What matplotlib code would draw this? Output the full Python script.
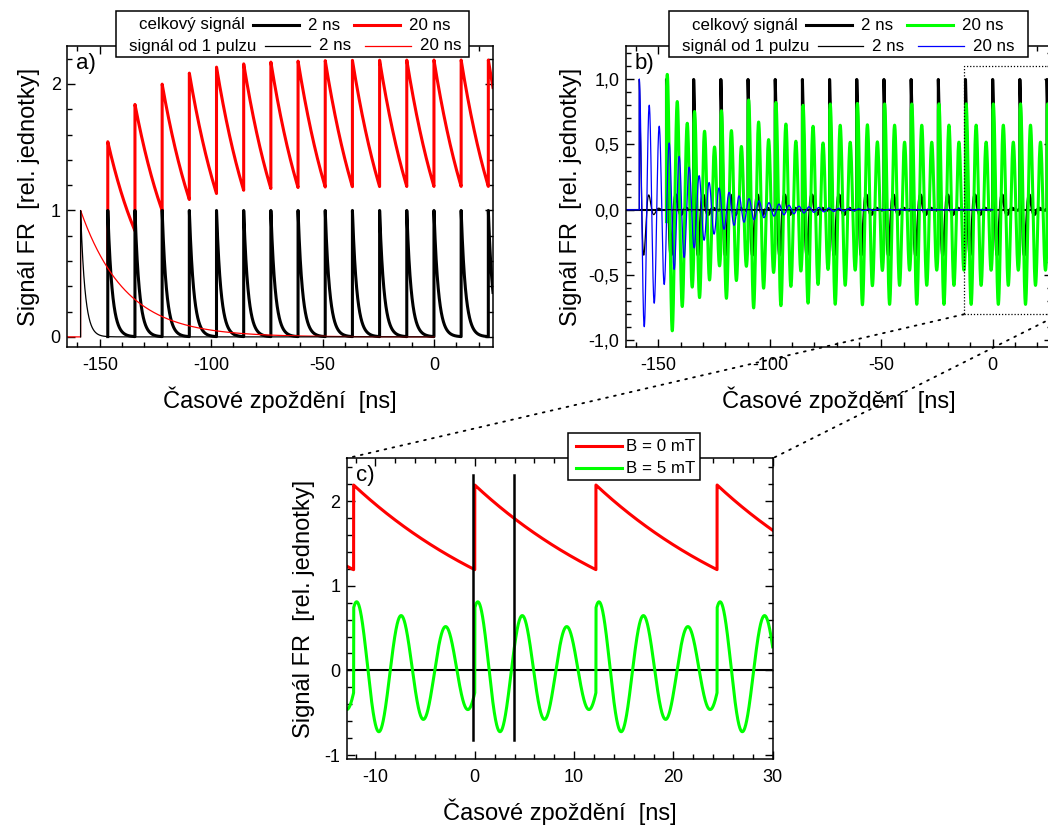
import numpy as np
import matplotlib
matplotlib.use('Agg')
import matplotlib.pyplot as plt
import matplotlib.transforms as mtransforms
from matplotlib.patches import Rectangle, ConnectionPatch
from matplotlib.lines import Line2D
from matplotlib.ticker import MultipleLocator, FuncFormatter

plt.rcParams['font.family'] = ['Liberation Sans', 'DejaVu Sans']
plt.rcParams['axes.unicode_minus'] = False
plt.rcParams['axes.linewidth'] = 1.1

# ---- values ----
PULSE_PERIOD = 12.2          # ns, laser repetition
PULSE_INDEX = np.arange(-13, 3)   # pulses from -158.6 ns to 24.4 ns
TAU_SHORT = 2.0              # ns
TAU_LONG = 20.0              # ns
PRECESSION_PERIOD = 4.48     # ns, B = 5 mT
SINGLE_END = 0.0             # single-pulse curves drawn up to 0 ns
MARKERS_C = [-0.15, 3.95]    # black vertical lines in c)
MARKER_SPAN = (-0.82, 2.31)
ZOOM_X = (-12.9, 30.0)
ZOOM_Y = (-0.8, 1.1)

XLIM_AB = (-164.7, 26.5)
YLIM_A = (-0.08, 2.3)
YLIM_B = (-1.05, 1.253)
XLIM_C = (-12.9, 30.0)
YLIM_C = (-1.05, 2.505)

XLABEL = 'Časové zpoždění  [ns]'
YLABEL = 'Signál FR  [rel. jednotky]'

pulse_times = PULSE_INDEX * PULSE_PERIOD


def signal(t, tau, period=None, pulses=pulse_times):
    s = np.zeros_like(t)
    for tp in pulses:
        d = t - tp
        on = d >= 0
        osc = np.cos(2 * np.pi * d[on] / period) if period else 1.0
        s[on] += np.exp(-d[on] / tau) * osc
    return s


W, H = 1048, 826
fig = plt.figure(figsize=(W / 100, H / 100), dpi=100)
px = mtransforms.Affine2D().scale(1 / W, -1 / H).translate(0, 1) + fig.transFigure

aw, ah = 426 / W, 301 / H
ax_a = fig.add_axes([67 / W, 1 - 347 / H, aw, ah])
ax_b = fig.add_axes([625.7 / W, 1 - 347 / H, aw, ah])
ax_c = fig.add_axes([346.7 / W, 1 - 759.3 / H, aw, ah])

t = np.arange(XLIM_AB[0], XLIM_AB[1], 0.005)
t_tot = t[t >= pulse_times[1] - 0.005]
t_single = t[t <= SINGLE_END]
t_single_k = t_single[t_single >= pulse_times[0] - 0.005]
single = pulse_times[:1]

THICK, THIN = 2.2, 0.9

# ---- a) ----
ax = ax_a
ax.plot(t_tot, signal(t_tot, TAU_LONG), color='#ff0000', lw=THICK)
ax.plot(t_tot, signal(t_tot, TAU_SHORT), color='black', lw=THICK)
ax.plot(t_single, signal(t_single, TAU_LONG, pulses=single), color='#ff0000', lw=THIN)
ax.plot(t_single_k, signal(t_single_k, TAU_SHORT, pulses=single), color='black', lw=THIN)
ax.set_xlim(*XLIM_AB)
ax.set_ylim(*YLIM_A)
ax.yaxis.set_major_locator(MultipleLocator(1))
ax.yaxis.set_minor_locator(MultipleLocator(0.2))
ax.yaxis.set_major_formatter(FuncFormatter(lambda v, p: '%d' % round(v)))

# ---- b) ----
ax = ax_b
ax.axhline(0, color='black', lw=1.5)
ax.plot(t_tot, signal(t_tot, TAU_SHORT, PRECESSION_PERIOD), color='black', lw=THICK)
ax.plot(t_tot, signal(t_tot, TAU_LONG, PRECESSION_PERIOD), color='#00ff00', lw=THICK)
ax.plot(t_single_k, signal(t_single_k, TAU_SHORT, PRECESSION_PERIOD, pulses=single), color='black', lw=THIN)
ax.plot(t_single, signal(t_single, TAU_LONG, PRECESSION_PERIOD, pulses=single), color='#0000ff', lw=THIN)
ax.set_xlim(*XLIM_AB)
ax.set_ylim(*YLIM_B)
ax.yaxis.set_major_locator(MultipleLocator(0.5))
ax.yaxis.set_minor_locator(MultipleLocator(0.1))
ax.yaxis.set_major_formatter(FuncFormatter(lambda v, p: ('%.1f' % v).replace('.', ',')))
ax.add_patch(Rectangle((ZOOM_X[0], ZOOM_Y[0]), ZOOM_X[1] - ZOOM_X[0], ZOOM_Y[1] - ZOOM_Y[0],
                       fill=False, ec='black', lw=0.9, ls=(0, (1, 1.5)), clip_on=False, zorder=5))

# ---- c) ----
ax = ax_c
tc = np.arange(XLIM_C[0], XLIM_C[1], 0.005)
ax.axhline(0, color='black', lw=1.5)
ax.plot(tc, signal(tc, TAU_LONG), color='#ff0000', lw=THICK)
ax.plot(tc, signal(tc, TAU_LONG, PRECESSION_PERIOD), color='#00ff00', lw=THICK)
for m in MARKERS_C:
    ax.plot([m, m], MARKER_SPAN, color='black', lw=1.8)
ax.set_xlim(*XLIM_C)
ax.set_ylim(*YLIM_C)
ax.xaxis.set_major_locator(MultipleLocator(10))
ax.xaxis.set_minor_locator(MultipleLocator(2))
ax.yaxis.set_major_locator(MultipleLocator(1))
ax.yaxis.set_minor_locator(MultipleLocator(0.2))
ax.yaxis.set_major_formatter(FuncFormatter(lambda v, p: '%d' % round(v)))
ax.xaxis.set_major_formatter(FuncFormatter(lambda v, p: '%d' % round(v)))

for ax, lab, ypad in [(ax_a, 'a)', 8), (ax_b, 'b)', 4.5), (ax_c, 'c)', 7)]:
    if ax is not ax_c:
        ax.xaxis.set_major_locator(MultipleLocator(50))
        ax.xaxis.set_minor_locator(MultipleLocator(10))
        ax.xaxis.set_major_formatter(FuncFormatter(lambda v, p: '%d' % round(v)))
    ax.tick_params(which='both', direction='in', top=True, right=True, labelsize=13)
    ax.tick_params(which='major', length=6, width=1.0, pad=7)
    ax.tick_params(axis='y', which='major', pad=4.5)
    ax.tick_params(which='minor', length=3.5, width=1.0)
    ax.set_xlabel(XLABEL, fontsize=17, labelpad=9)
    ax.set_ylabel(YLABEL, fontsize=17, labelpad=ypad)
    ax.text(0.021, 0.978, lab, transform=ax.transAxes, fontsize=16, va='top', ha='left')

# connection lines b) -> c)
for xb, xc in [(ZOOM_X[0], 0), (ZOOM_X[1], 1)]:
    con = ConnectionPatch(xyA=(xb, ZOOM_Y[0]), coordsA=ax_b.transData,
                          xyB=(xc, 1), coordsB=ax_c.transAxes,
                          color='black', lw=1.3, ls=(0, (1, 3.5)))
    fig.add_artist(con)


# ---- Origin style legends ----
def legend_box(left, top, width, height, rows):
    fig.add_artist(Rectangle((left, top), width, height, transform=px, fc='white',
                             ec='black', lw=1.1, zorder=10))
    for dy, items in rows:
        y = top + dy
        for it in items:
            if it[0] == 'text':
                fig.text(left + it[1], y, it[2], transform=px, fontsize=12.2,
                         va='center', ha='left', zorder=11)
            else:
                fig.add_artist(Line2D([left + it[1], left + it[2]], [y, y], transform=px,
                                      color=it[3], lw=it[4], zorder=11))


def two_row(c_thick, c_thin):
    return [
        (14.3, [('text', 23, 'celkový signál'), ('line', 137, 182.5, 'black', THICK),
                ('text', 192, '2 ns'), ('line', 238, 283.5, c_thick, THICK),
                ('text', 293, '20 ns')]),
        (35.3, [('text', 13, 'signál od 1 pulzu'), ('line', 148.5, 193.5, 'black', THIN),
                ('text', 203, '2 ns'), ('line', 249, 294.5, c_thin, THIN),
                ('text', 303.7, '20 ns')]),
    ]


legend_box(116, 10.7, 353.3, 46.5, two_row('#ff0000', '#ff0000'))
legend_box(669, 11, 358.7, 45.7, two_row('#00ff00', '#0000ff'))
legend_box(568.3, 432.7, 131.7, 47.3, [
    (13.5, [('line', 7.4, 53.4, '#ff0000', THICK), ('text', 57.7, 'B = 0 mT')]),
    (35.6, [('line', 7.4, 53.4, '#00ff00', THICK), ('text', 57.7, 'B = 5 mT')]),
])

fig.savefig('out.png', dpi=100)
